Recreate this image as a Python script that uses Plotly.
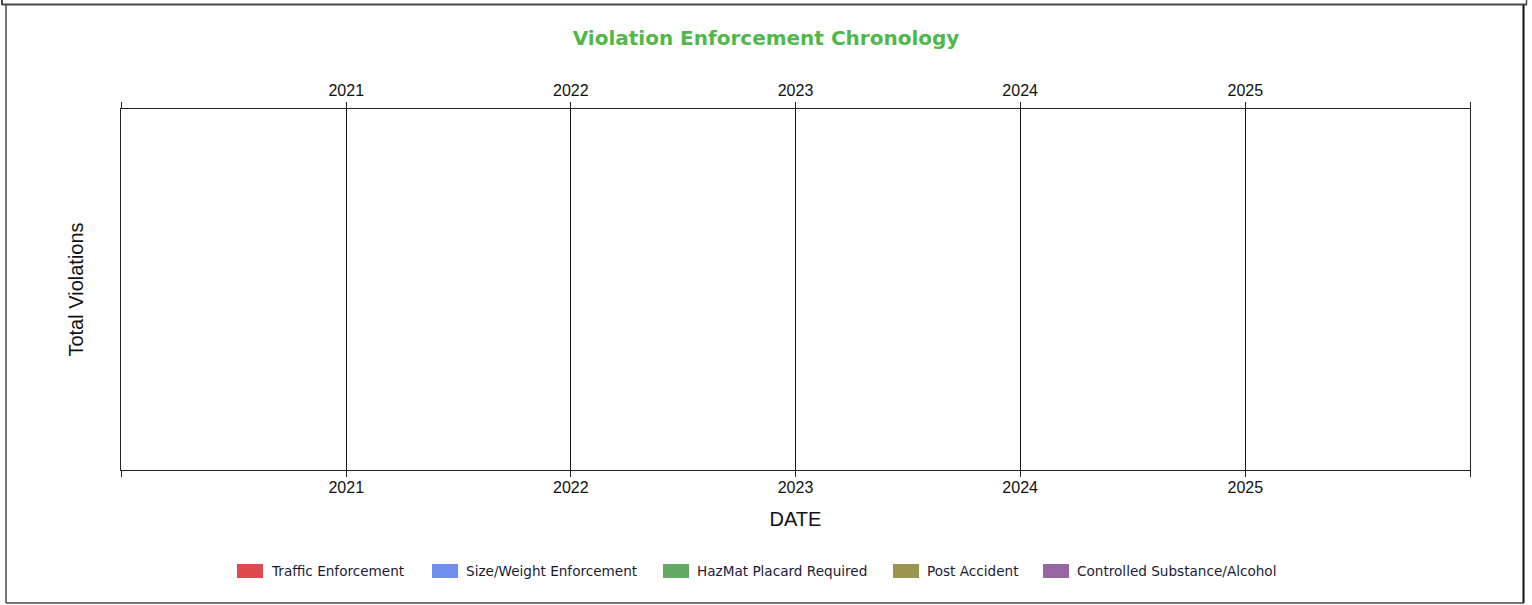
import plotly.graph_objects as go

# ---------------- data ----------------
years = [2021, 2022, 2023, 2024, 2025]
tick_labels = ["2021", "2022", "2023", "2024", "2025"]
series_names = [
    "Traffic Enforcement",
    "Size/Weight Enforcement",
    "HazMat Placard Required",
    "Post Accident",
    "Controlled Substance/Alcohol",
]
series_colors = ["#E0494F", "#6E8FEE", "#64AA64", "#9A9650", "#9866A0"]
traffic_enforcement = [0, 0, 0, 0, 0]
size_weight_enforcement = [0, 0, 0, 0, 0]
hazmat_placard_required = [0, 0, 0, 0, 0]
post_accident = [0, 0, 0, 0, 0]
controlled_substance_alcohol = [0, 0, 0, 0, 0]
series_values = [
    traffic_enforcement,
    size_weight_enforcement,
    hazmat_placard_required,
    post_accident,
    controlled_substance_alcohol,
]

# ---------------- geometry ----------------
W, H = 1532, 605
PL, PR, PT, PB = 121, 1470, 109, 470  # plot area in pixels


def px(x):
    return (x - PL) / (PR - PL)


def py(y):
    return (PB - y) / (PB - PT)


dates = [f"{y}-01-01" for y in years]
x_range = ["2020-01-01", "2026-01-01"]
tickvals = ["2020-01-01"] + dates + ["2026-01-01"]
ticktext = [""] + tick_labels + [""]

fig = go.Figure()
for name, color, vals in zip(series_names, series_colors, series_values):
    fig.add_trace(go.Bar(x=dates, y=vals, name=name, marker_color=color,
                         marker_line_width=0, showlegend=False))
# helper trace so the top date axis is drawn
fig.add_trace(go.Scatter(x=dates, y=traffic_enforcement, xaxis="x2", mode="none",
                         showlegend=False, hoverinfo="skip"))

axis_common = dict(
    type="date", range=x_range, tickmode="array", tickvals=tickvals, ticktext=ticktext,
    showgrid=True, gridcolor="#111111", gridwidth=1,
    showline=True, linecolor="#222222", linewidth=1,
    ticks="outside", ticklen=6, tickcolor="#222222", tickwidth=1,
    tickfont=dict(family="Liberation Sans, Arial", size=16, color="#111111"),
    zeroline=False, fixedrange=True,
)

fig.update_layout(
    width=W, height=H,
    margin=dict(l=PL, r=W - PR, t=PT, b=H - PB, pad=0),
    paper_bgcolor="white", plot_bgcolor="white",
    barmode="stack",
    title=dict(
        text="Violation Enforcement Chronology",
        x=0.5, xref="container", xanchor="center",
        y=1 - 38 / H, yref="container", yanchor="middle",
        font=dict(family="DejaVu Sans", size=20, color="#4FB848", weight="bold"),
    ),
    xaxis=dict(
        **axis_common, side="bottom", ticklabelstandoff=-3,
        title=dict(text="DATE", standoff=16,
                   font=dict(family="Liberation Sans, Arial", size=20, color="#111111")),
    ),
    xaxis2=dict(**axis_common, side="top", overlaying="x", anchor="y"),
    yaxis=dict(
        range=[0, 1], showticklabels=False, ticks="", showgrid=False, zeroline=False,
        showline=True, linecolor="#222222", linewidth=1, mirror=True, fixedrange=True,
        title=dict(text="Total Violations", standoff=31,
                   font=dict(family="Liberation Sans, Arial", size=20, color="#111111")),
    ),
    showlegend=False,
)

# ---------------- custom legend ----------------
box_x = [237, 432, 663, 893, 1043]
box_w, box_y0, box_y1 = 26, 564, 578
shapes = []
annotations = []
for bx, name, color in zip(box_x, series_names, series_colors):
    shapes.append(dict(type="rect", xref="paper", yref="paper",
                       x0=px(bx), x1=px(bx + box_w), y0=py(box_y1), y1=py(box_y0),
                       fillcolor=color, line=dict(width=0), layer="above"))
    annotations.append(dict(text=name, xref="paper", yref="paper",
                            x=px(bx + box_w + 6), y=py((box_y0 + box_y1) / 2),
                            xanchor="left", yanchor="middle", showarrow=False,
                            font=dict(family="DejaVu Sans", size=13.6, color="#1A1A36")))

# ---------------- outer frame ----------------
frame = "#4A4A4A"
shapes += [
    dict(type="line", xref="paper", yref="paper", x0=px(2), x1=px(1527), y0=py(4.5), y1=py(4.5),
         line=dict(color=frame, width=2)),
    dict(type="line", xref="paper", yref="paper", x0=px(2), x1=px(2), y0=py(0), y1=py(5),
         line=dict(color=frame, width=2)),
    dict(type="line", xref="paper", yref="paper", x0=px(1526.5), x1=px(1526.5), y0=py(0), y1=py(5),
         line=dict(color=frame, width=1.5)),
    dict(type="line", xref="paper", yref="paper", x0=px(6), x1=px(6), y0=py(5), y1=py(603),
         line=dict(color=frame, width=1.5)),
    dict(type="line", xref="paper", yref="paper", x0=px(1523.5), x1=px(1523.5), y0=py(5), y1=py(603),
         line=dict(color="#111111", width=2)),
    dict(type="line", xref="paper", yref="paper", x0=px(6), x1=px(1524), y0=py(603), y1=py(603),
         line=dict(color=frame, width=1.5)),
]
fig.update_layout(shapes=shapes, annotations=annotations)

fig.write_html("out.html", config={"displayModeBar": False},
               post_script="document.body.style.margin='0px';")
